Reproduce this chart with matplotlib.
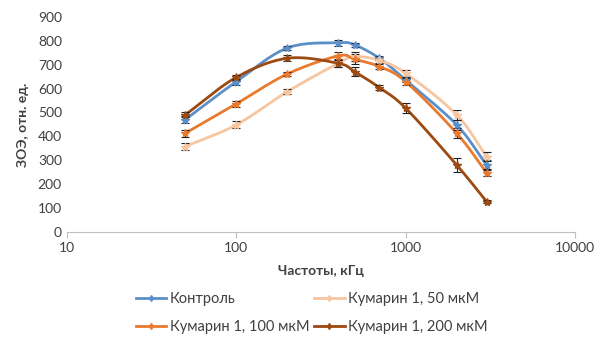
import numpy as np
import matplotlib
matplotlib.use("Agg")
import matplotlib.pyplot as plt

plt.rcParams['font.family'] = ['Lato', 'DejaVu Sans']

freq = [50, 100, 200, 400, 500, 700, 1000, 2000, 3000]
control = [470, 629, 770, 792, 783, 727, 636, 448, 280]
kum50 = [357, 448, 587, 706, 734, 718, 664, 490, 315]
kum100 = [413, 536, 661, 737, 723, 692, 629, 413, 248]
kum200 = [490, 647, 727, 706, 671, 604, 518, 280, 127]
err_control = [15, 12, 10, 12, 10, 8, 10, 20, 20]
err50 = [15, 15, 10, 15, 20, 10, 15, 20, 20]
err100 = [15, 12, 10, 15, 20, 10, 15, 20, 15]
err200 = [10, 12, 12, 15, 20, 10, 22, 28, 8]

labels = ['Контроль', 'Кумарин 1, 50 мкМ', 'Кумарин 1, 100 мкМ', 'Кумарин 1, 200 мкМ']
colors = ['#5B8FC9', '#F7C59F', '#E97A2E', '#9C4A12']


def smooth(x, y, n=20):
    # catmull-rom through the points, in log-x / normalised-y space
    lx = np.log10(x) / 3.0
    yy = np.asarray(y, float) / 900.0
    px = np.concatenate([[2 * lx[0] - lx[1]], lx, [2 * lx[-1] - lx[-2]]])
    py = np.concatenate([[2 * yy[0] - yy[1]], yy, [2 * yy[-1] - yy[-2]]])
    outx, outy = [], []
    for i in range(1, len(px) - 2):
        t = np.linspace(0, 1, n)
        for P, out in ((px, outx), (py, outy)):
            p0, p1, p2, p3 = P[i - 1], P[i], P[i + 1], P[i + 2]
            out.extend(0.5 * ((2 * p1) + (-p0 + p2) * t
                              + (2 * p0 - 5 * p1 + 4 * p2 - p3) * t ** 2
                              + (-p0 + 3 * p1 - 3 * p2 + p3) * t ** 3))
    return 10 ** (np.array(outx) * 3.0), np.array(outy) * 900.0


fig = plt.figure(figsize=(5.96, 3.39), dpi=100)
ax = fig.add_axes([0.112, 0.316, 0.853, 0.634])

series = [control, kum50, kum100, kum200]
errs = [err_control, err50, err100, err200]
handles = []
for vals, e, c, lab in zip(series, errs, colors, labels):
    sx, sy = smooth(freq, vals)
    ax.errorbar(freq, vals, yerr=e, fmt='none', ecolor='#222222',
                elinewidth=0.8, capsize=3, capthick=0.8, zorder=3)
    ax.plot(sx, sy, color=c, lw=2, zorder=2)
    ax.plot(freq, vals, ls='none', marker='*', ms=6, color=c, zorder=4)
    handles.append(plt.Line2D([], [], color=c, lw=2, marker='d', ms=3))

ax.set_xscale('log')
ax.set_xlim(10, 10000)
ax.set_ylim(0, 900)
ax.set_yticks(range(0, 901, 100))
ax.set_xticks([10, 100, 1000, 10000])
ax.set_xticklabels(['10', '100', '1000', '10000'])
ax.minorticks_off()
for s in ['top', 'right', 'left']:
    ax.spines[s].set_visible(False)
ax.spines['bottom'].set_color('#BFBFBF')
ax.tick_params(axis='y', length=0, labelsize=10, colors='#404040')
ax.tick_params(axis='x', length=4, color='#BFBFBF', labelsize=10, colors='#404040')

ax.set_xlabel('Частоты, кГц', fontsize=10, fontweight='bold', color='#404040', labelpad=8)
ax.set_ylabel('ЗОЭ, отн. ед.', fontsize=10, fontweight='bold', color='#404040', labelpad=6)

# row-wise order like Excel: matplotlib fills legend columns first
order = [0, 2, 1, 3]
fig.legend([handles[i] for i in order], [labels[i] for i in order],
           loc='upper left', bbox_to_anchor=(0.218, 0.155),
           ncol=2, frameon=False, fontsize=10.5, handlelength=2.1,
           columnspacing=0.3, labelspacing=0.95, handletextpad=0.25,
           labelcolor='#404040', borderaxespad=0)

fig.savefig('out.png', dpi=100)
